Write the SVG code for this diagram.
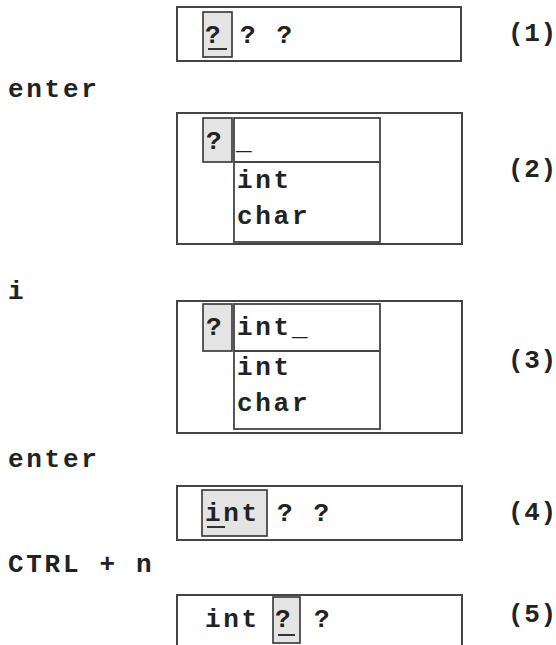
<svg xmlns="http://www.w3.org/2000/svg" width="556" height="645" viewBox="0 0 556 645">
<style>
text{font-family:"Liberation Mono","DejaVu Sans Mono",monospace;font-weight:bold;font-size:26px;letter-spacing:2.7px;fill:#222}
text.num{letter-spacing:0.6px}
.frame{fill:#fff;stroke:#444;stroke-width:2}
.sel{fill:#e4e4e4;stroke:#333;stroke-width:1.6}
.drop{fill:#fff;stroke:#444;stroke-width:1.8}
.ul{stroke:#333;stroke-width:2}
</style>
<rect width="556" height="645" fill="#fff"/>
<g id="labels">
<text x="8" y="97">enter</text>
<text x="8" y="299">i</text>
<text x="8" y="467">enter</text>
<text x="8" y="572">CTRL + n</text>
</g>
<g id="step1">
<rect class="frame" x="177" y="7" width="284" height="54"/>
<rect class="sel" x="203" y="12" width="29" height="45"/>
<text x="205" y="43">?</text>
<line class="ul" x1="208" y1="49" x2="227" y2="49"/>
<text x="240" y="43">? ?</text>
<text class="num" x="508" y="41">(1)</text>
</g>
<g id="step2">
<rect class="frame" x="177" y="113" width="285" height="131"/>
<rect class="sel" x="203" y="118" width="29" height="44"/>
<text x="206" y="149">?</text>
<rect class="drop" x="234" y="118" width="146" height="124"/>
<line class="drop" x1="234" y1="162" x2="380" y2="162"/>
<text x="236" y="149">_</text>
<text x="237" y="188">int</text>
<text x="237" y="224">char</text>
<text class="num" x="508" y="177">(2)</text>
</g>
<g id="step3">
<rect class="frame" x="177" y="301" width="285" height="132"/>
<rect class="sel" x="203" y="304" width="29" height="47"/>
<text x="206" y="335">?</text>
<rect class="drop" x="234" y="304" width="146" height="125"/>
<line class="drop" x1="234" y1="351" x2="380" y2="351"/>
<text x="237" y="335">int_</text>
<text x="237" y="375">int</text>
<text x="237" y="411">char</text>
<text class="num" x="508" y="368">(3)</text>
</g>
<g id="step4">
<rect class="frame" x="177" y="486" width="285" height="54"/>
<rect class="sel" x="202" y="490" width="65" height="46"/>
<text x="205" y="521">int</text>
<line class="ul" x1="207" y1="527" x2="225" y2="527"/>
<text x="277" y="521">? ?</text>
<text class="num" x="508" y="520">(4)</text>
</g>
<g id="step5">
<rect class="frame" x="177" y="595" width="285" height="60"/>
<rect class="sel" x="273" y="597" width="27" height="46"/>
<text x="205" y="627">int</text>
<text x="275" y="627">?</text>
<line class="ul" x1="278" y1="635" x2="295" y2="635"/>
<text x="314" y="627">?</text>
<text class="num" x="508" y="622">(5)</text>
</g>
</svg>
